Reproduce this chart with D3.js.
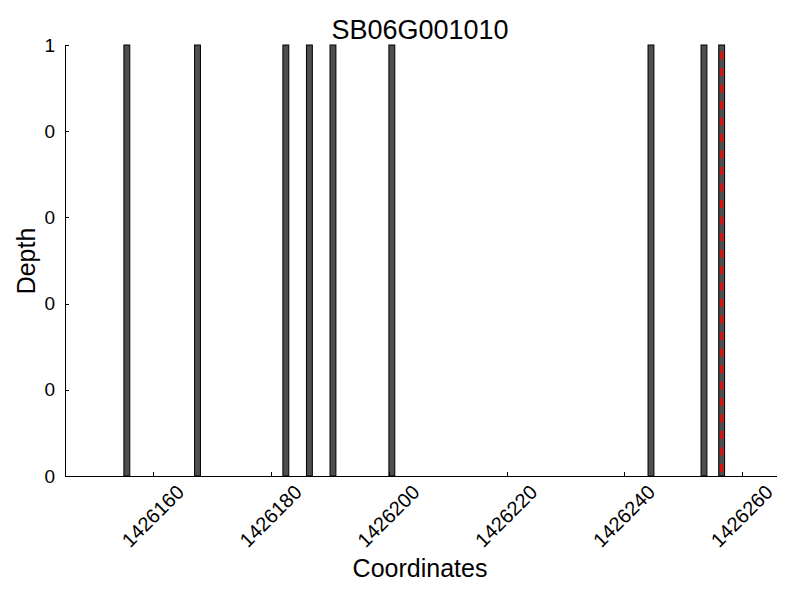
<!DOCTYPE html>
<meta charset="utf-8">
<style>
body { margin: 0; background: #fff; }
text { font-family: "Liberation Sans", Arial, sans-serif; fill: #000; }
.axis path, .axis line { fill: none; stroke: #000; shape-rendering: crispEdges; }
</style>
<body>
<script src="https://d3js.org/d3.v7.min.js"></script>
<script>
// read positions of covered bases (left edge), depth of each
var positions = [1426155, 1426167, 1426182, 1426186, 1426190, 1426200, 1426244, 1426253, 1426256];
var depths = [1, 1, 1, 1, 1, 1, 1, 1, 1];
var xTicks = [1426160, 1426180, 1426200, 1426220, 1426240, 1426260];
var yTicks = [0, 0.2, 0.4, 0.6, 0.8, 1];
var markerPos = 1426256.5;
var title = "SB06G001010";

var margin = {top: 45, right: 23, bottom: 124, left: 65},
    width = 800 - margin.left - margin.right,
    height = 600 - margin.top - margin.bottom;

var svg = d3.select("body").append("svg")
    .attr("width", 800)
    .attr("height", 600);

var g = svg.append("g")
    .attr("transform", "translate(" + margin.left + "," + margin.top + ")");

var x = d3.scaleLinear().domain([1426145, 1426265.9]).range([0, width]);
var y = d3.scaleLinear().domain([0, 1]).range([height, 0]);

// bars
g.selectAll(".bar")
    .data(positions)
  .enter().append("rect")
    .attr("class", "bar")
    .attr("x", function(d) { return x(d); })
    .attr("width", function(d) { return x(d + 1) - x(d); })
    .attr("y", function(d, i) { return y(depths[i]); })
    .attr("height", function(d, i) { return height - y(depths[i]); })
    .style("fill", "#4f4f4f")
    .style("stroke", "#000")
    .style("stroke-width", 1);

// red dashed marker
g.append("line")
    .attr("x1", x(markerPos)).attr("x2", x(markerPos))
    .attr("y1", 0).attr("y2", height)
    .style("stroke", "#ff0000")
    .style("stroke-width", 2.5)
    .style("stroke-dasharray", "8,8.5")
    .style("stroke-dashoffset", -6.5);

// axes
var xAxis = d3.axisBottom(x).tickValues(xTicks).tickSize(-4).tickPadding(0).tickFormat(d3.format("d"));
var yAxis = d3.axisLeft(y).tickValues(yTicks).tickSize(-4).tickPadding(10)
    .tickFormat(function(d) { return String(Math.floor(d + 1e-9)); });

var gx = g.append("g")
    .attr("class", "x axis")
    .attr("transform", "translate(0," + height + ")")
    .call(xAxis);
gx.select(".domain").attr("d", "M0.5,0.5H" + width);
gx.selectAll("text")
    .style("font-size", "20px")
    .style("text-anchor", "middle")
    .attr("y", 0)
    .attr("dy", "0.35em")
    .attr("transform", "translate(-1,40) rotate(-45)");

var gy = g.append("g")
    .attr("class", "y axis")
    .call(yAxis);
gy.select(".domain").attr("d", "M0.5," + height + "V0.5");
gy.selectAll("text").style("font-size", "19px");

// labels
svg.append("text")
    .attr("x", 420).attr("y", 39)
    .attr("text-anchor", "middle")
    .style("font-size", "27px")
    .text(title);

svg.append("text")
    .attr("x", 420).attr("y", 577)
    .attr("text-anchor", "middle")
    .style("font-size", "25px")
    .text("Coordinates");

svg.append("text")
    .attr("transform", "translate(35,261) rotate(-90)")
    .attr("text-anchor", "middle")
    .style("font-size", "25px")
    .text("Depth");
</script>
</body>
